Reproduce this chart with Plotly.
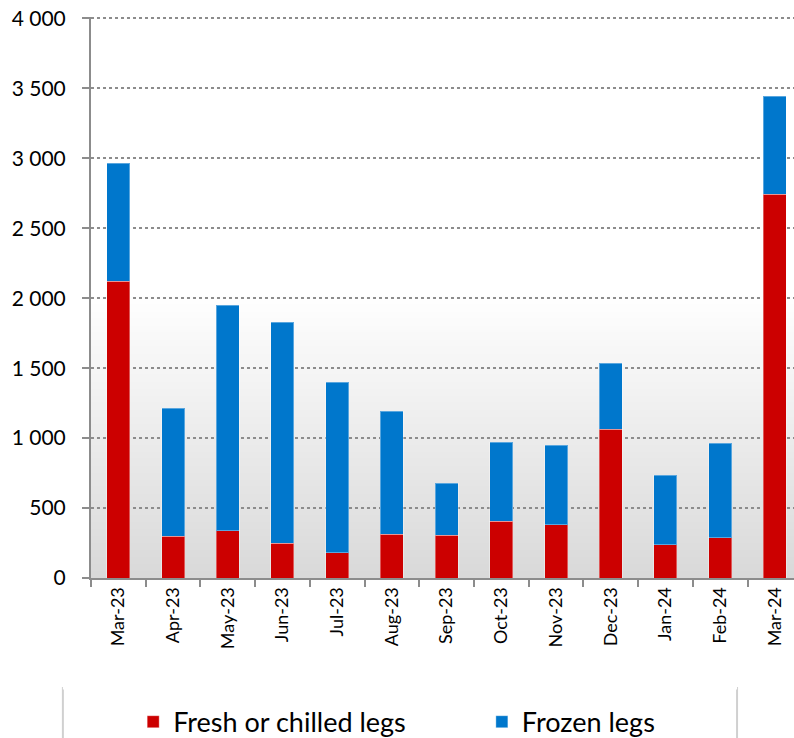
import plotly.graph_objects as go

months = ['Mar-23', 'Apr-23', 'May-23', 'Jun-23', 'Jul-23', 'Aug-23', 'Sep-23',
          'Oct-23', 'Nov-23', 'Dec-23', 'Jan-24', 'Feb-24', 'Mar-24']
fresh = [2121, 300, 336, 250, 179, 314, 307, 407, 379, 1064, 236, 286, 2743]
frozen = [843, 914, 1614, 1579, 1221, 879, 372, 564, 571, 472, 500, 678, 700]

red = '#cc0000'
blue = '#0077cc'

fig = go.Figure()
fig.add_trace(go.Bar(x=months, y=fresh, name='Fresh or chilled legs', legend='legend',
                     marker=dict(color=red, line=dict(color='rgba(255,255,255,0.35)', width=1))))
fig.add_trace(go.Bar(x=months, y=frozen, name='Frozen legs', legend='legend2',
                     marker=dict(color=blue, line=dict(color='rgba(255,255,255,0.35)', width=1))))

# gradient plot background: white at middle -> light grey at the bottom
shapes = []
n = 40
for i in range(n):
    t = i / n
    g = int(round(217 + (255 - 217) * t))
    shapes.append(dict(type='rect', xref='paper', yref='paper',
                       x0=0, x1=1, y0=0.5 * i / n, y1=0.5 * (i + 1) / n + 0.002,
                       fillcolor='rgb(%d,%d,%d)' % (g, g, g), line=dict(width=0), layer='below'))
# legend frame (cut off at the bottom)
shapes.append(dict(type='rect', xref='paper', yref='paper',
                   x0=-0.04, x1=0.919, y0=-0.196, y1=-0.45,
                   fillcolor='white', line=dict(color='#d0d0d0', width=2), layer='below'))
shapes.append(dict(type='line', xref='paper', yref='paper',
                   x0=-0.04, x1=0.919, y0=-0.196, y1=-0.196,
                   line=dict(color='white', width=3), layer='below'))

leg = dict(orientation='h', yanchor='middle', xanchor='left', y=-0.257,
           font=dict(size=27), bgcolor='rgba(0,0,0,0)')

fig.update_layout(
    barmode='stack',
    bargap=0.58,
    width=794, height=738,
    margin=dict(l=91, r=0, t=17, b=160, autoexpand=False),
    paper_bgcolor='white',
    plot_bgcolor='white',
    separators='. ',
    font=dict(family='Lato, Open Sans, sans-serif', color='black'),
    shapes=shapes,
    showlegend=True,
    legend=dict(leg, x=0.06),
    legend2=dict(leg, x=0.556),
)
fig.update_xaxes(
    range=[-0.5, 12.35], tickangle=-90, tickfont=dict(size=18),
    showline=True, linecolor='#8c8c8c', linewidth=2,
    ticks='outside', tickson='boundaries', ticklen=7, tickcolor='#8c8c8c', tickwidth=2,
    showgrid=False, automargin=False,
)
fig.update_yaxes(
    range=[0, 4010], tickvals=[0, 500, 1000, 1500, 2000, 2500, 3000, 3500, 4000],
    tickformat=',d', tickfont=dict(size=21), ticklabeloverflow='allow',
    showline=True, linecolor='#8c8c8c', linewidth=2,
    ticks='outside', ticklen=7, tickcolor='#8c8c8c', tickwidth=2,
    showgrid=True, gridcolor='#8c8c8c', griddash='dot', gridwidth=1.5,
    zeroline=False, ticklabelstandoff=12, automargin=False,
)

# drop the default 8px page margin so the figure fills the window
fig.write_html('out.html', config={'displayModeBar': False},
               post_script="document.body.style.margin='0';")
